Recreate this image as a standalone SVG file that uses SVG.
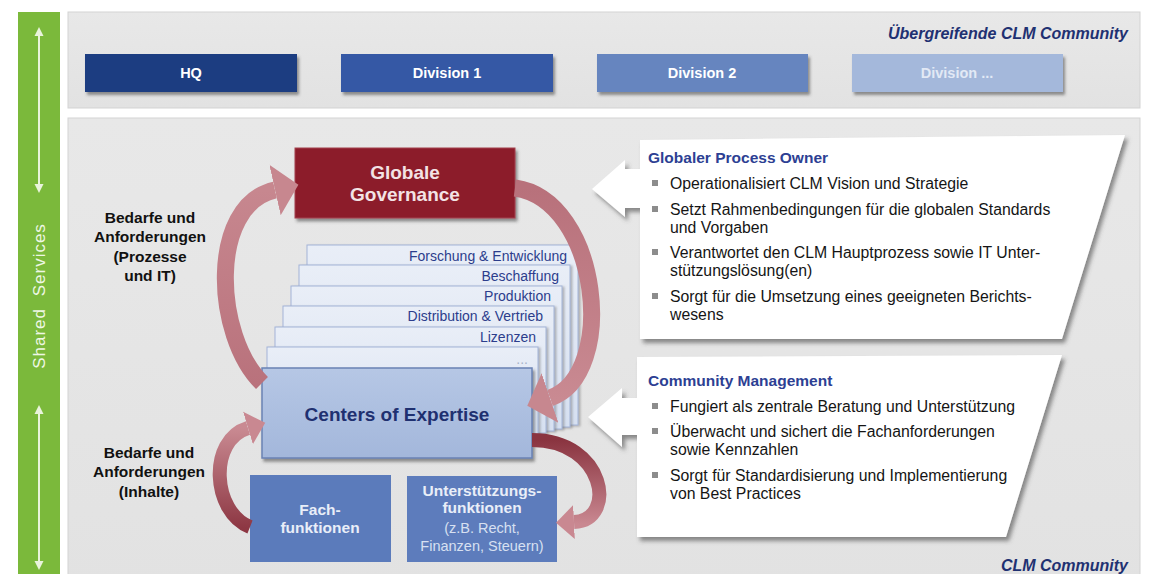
<svg xmlns="http://www.w3.org/2000/svg" width="1149" height="574" viewBox="0 0 1149 574">
  <style>
    .sans { font-family: "Liberation Sans", Arial, Helvetica, sans-serif; }
    .panel { fill: url(#panelFill); stroke: #d3d3d3; stroke-width: 1; }
    .unit { filter: url(#boxShadow); }
    .unit-label { font-family: "Liberation Sans", Arial, sans-serif; font-weight: bold; font-size: 14.5px; text-anchor: middle; fill: #ffffff; }
    .community { font-family: "Liberation Sans", Arial, sans-serif; font-weight: bold; font-style: italic; font-size: 16px; text-anchor: end; fill: #1f3172; }
    .side-label { font-family: "Liberation Sans", Arial, sans-serif; font-weight: bold; font-size: 15.5px; text-anchor: middle; fill: #111111; }
    .card { fill: url(#cardFill); stroke: #a3b4d7; stroke-width: 1; filter: url(#cardShadow); }
    .card-label { font-family: "Liberation Sans", Arial, sans-serif; font-size: 14px; text-anchor: end; fill: #2c3d8c; }
    .callout { fill: #ffffff; filter: url(#calloutShadow); }
    .callout-title { font-family: "Liberation Sans", Arial, sans-serif; font-weight: bold; font-size: 15.5px; fill: #2d3f93; }
    .callout-text { font-family: "Liberation Sans", Arial, sans-serif; font-size: 15.8px; fill: #151515; }
    .bullet { fill: #8c8c8c; }
    .loop { fill: none; stroke-linecap: butt; }
    .bar-line { stroke: #e9f4dc; stroke-width: 2; marker-start: url(#barHead); marker-end: url(#barHead); }
  </style>
  <defs>
    <linearGradient id="panelFill" x1="0" y1="0" x2="0" y2="1">
      <stop offset="0" stop-color="#e8e8e8"/>
      <stop offset="1" stop-color="#e2e2e2"/>
    </linearGradient>
    <linearGradient id="cardFill" x1="0" y1="0" x2="0" y2="1">
      <stop offset="0" stop-color="#e9eef7"/>
      <stop offset="1" stop-color="#d6e0f1"/>
    </linearGradient>
    <linearGradient id="coeFill" x1="0" y1="0" x2="0" y2="1">
      <stop offset="0" stop-color="#b6c7e5"/>
      <stop offset="1" stop-color="#a3b7db"/>
    </linearGradient>
    <linearGradient id="loopLeft" gradientUnits="userSpaceOnUse" x1="0" y1="190" x2="0" y2="384">
      <stop offset="0" stop-color="#c7878f"/>
      <stop offset="1" stop-color="#b9727c"/>
    </linearGradient>
    <linearGradient id="loopRight" gradientUnits="userSpaceOnUse" x1="0" y1="188" x2="0" y2="400">
      <stop offset="0" stop-color="#b8717b"/>
      <stop offset="1" stop-color="#c98a92"/>
    </linearGradient>
    <linearGradient id="loopLowLeft" gradientUnits="userSpaceOnUse" x1="0" y1="428" x2="0" y2="528">
      <stop offset="0" stop-color="#c98a92"/>
      <stop offset="1" stop-color="#8d3743"/>
    </linearGradient>
    <linearGradient id="loopLowRight" gradientUnits="userSpaceOnUse" x1="0" y1="440" x2="0" y2="524">
      <stop offset="0" stop-color="#8a3440"/>
      <stop offset="1" stop-color="#c98891"/>
    </linearGradient>
    <filter id="boxShadow" x="-10%" y="-20%" width="125%" height="150%">
      <feDropShadow dx="2" dy="3" stdDeviation="1.5" flood-color="#3c3c3c" flood-opacity="0.55"/>
    </filter>
    <filter id="cardShadow" x="-5%" y="-5%" width="115%" height="115%">
      <feDropShadow dx="2" dy="1" stdDeviation="1" flood-color="#6a6a6a" flood-opacity="0.45"/>
    </filter>
    <filter id="calloutShadow" x="-10%" y="-10%" width="125%" height="130%">
      <feDropShadow dx="3" dy="4" stdDeviation="2" flood-color="#4a4a4a" flood-opacity="0.6"/>
    </filter>
    <marker id="bigHead" markerUnits="userSpaceOnUse" viewBox="0 -27 25 54" refX="0" refY="0" markerWidth="25" markerHeight="54" orient="auto">
      <path d="M0,-26 L24,0 L0,26 Z" fill="#c7878f"/>
    </marker>
    <marker id="smallHead" markerUnits="userSpaceOnUse" viewBox="0 -18 19 36" refX="0" refY="0" markerWidth="19" markerHeight="36" orient="auto">
      <path d="M0,-17 L18,0 L0,17 Z" fill="#c98891"/>
    </marker>
    <marker id="barHead" markerUnits="userSpaceOnUse" viewBox="0 -5 9 10" refX="0" refY="0" markerWidth="9" markerHeight="10" orient="auto-start-reverse">
      <path d="M0,-4.5 L9,0 L0,4.5 Z" fill="#e9f4dc"/>
    </marker>
  </defs>

  <rect x="0" y="0" width="1149" height="574" fill="#ffffff"/>

  <!-- vertical shared services band -->
  <g id="shared-services">
    <rect x="18" y="12" width="42" height="562" fill="#7bb93b"/>
    <line class="bar-line" x1="39" y1="36" x2="39" y2="184"/>
    <line class="bar-line" x1="39" y1="414" x2="39" y2="561"/>
    <text class="sans" x="39" y="296" dy="6" transform="rotate(-90 39 296)" text-anchor="middle" font-size="17" letter-spacing="1" word-spacing="6" fill="#eef7e4">Shared Services</text>
  </g>

  <!-- upper panel: group-wide community -->
  <g id="global-community">
    <rect class="panel" x="68" y="12" width="1072" height="96"/>
    <text class="community" x="1128" y="39">Übergreifende CLM Community</text>
  </g>
  <g id="hq">
    <rect class="unit" x="85" y="54" width="212" height="38" fill="#1f3c81"/>
    <text class="unit-label" x="191" y="78">HQ</text>
  </g>
  <g id="division-1">
    <rect class="unit" x="341" y="54" width="212" height="38" fill="#3559a5"/>
    <text class="unit-label" x="447" y="78">Division 1</text>
  </g>
  <g id="division-2">
    <rect class="unit" x="597" y="54" width="211" height="38" fill="#6685bf"/>
    <text class="unit-label" x="702" y="78">Division 2</text>
  </g>
  <g id="division-n">
    <rect class="unit" x="852" y="54" width="211" height="38" fill="#a4b8db"/>
    <text class="unit-label" x="957" y="78" style="fill:#e2e9f5">Division ...</text>
  </g>

  <!-- lower panel: CLM community -->
  <g id="clm-community">
    <rect class="panel" x="68" y="118" width="1072" height="470"/>
    <text class="community" x="1128" y="571">CLM Community</text>
  </g>

  <g id="label-processes">
    <text class="side-label" x="150" y="223">Bedarfe und</text>
    <text class="side-label" x="150" y="242">Anforderungen</text>
    <text class="side-label" x="150" y="262">(Prozesse</text>
    <text class="side-label" x="150" y="281">und IT)</text>
  </g>
  <g id="label-contents">
    <text class="side-label" x="149" y="458">Bedarfe und</text>
    <text class="side-label" x="149" y="477">Anforderungen</text>
    <text class="side-label" x="149" y="497">(Inhalte)</text>
  </g>

  <!-- stacked functional areas behind the centers of expertise -->
  <g id="functional-areas">
    <rect class="card" x="307" y="245" width="271" height="180"/>
    <text class="card-label" x="567" y="261">Forschung &amp; Entwicklung</text>
    <rect class="card" x="299" y="265" width="271" height="162"/>
    <text class="card-label" x="559" y="281">Beschaffung</text>
    <rect class="card" x="291" y="286" width="271" height="143"/>
    <text class="card-label" x="551" y="301">Produktion</text>
    <rect class="card" x="283" y="306" width="271" height="125"/>
    <text class="card-label" x="543" y="321">Distribution &amp; Vertrieb</text>
    <rect class="card" x="275" y="327" width="271" height="106"/>
    <text class="card-label" x="536" y="342">Lizenzen</text>
    <rect class="card" x="267" y="347" width="271" height="88"/>
    <text class="card-label" x="528" y="364" style="fill:#a9b3c9">...</text>
  </g>

  <g id="global-governance">
    <rect class="unit" x="295" y="148" width="220" height="70" fill="#8c1d2c" stroke="#a3404d" stroke-width="1"/>
    <text class="sans" x="405" y="179" text-anchor="middle" font-size="19" font-weight="bold" fill="#f3e3e5">Globale</text>
    <text class="sans" x="405" y="201" text-anchor="middle" font-size="19" font-weight="bold" fill="#f3e3e5">Governance</text>
  </g>

  <g id="centers-of-expertise">
    <rect class="unit" x="262" y="368" width="270" height="90" fill="url(#coeFill)" stroke="#6a82b4" stroke-width="1.5"/>
    <text class="sans" x="397" y="421" text-anchor="middle" font-size="19" font-weight="bold" fill="#1f3070">Centers of Expertise</text>
  </g>

  <g id="fachfunktionen">
    <rect x="250" y="475" width="141" height="87" fill="#5b7bbb"/>
    <text class="sans" x="320" y="515" text-anchor="middle" font-size="15.5" font-weight="bold" fill="#e9eef8">Fach-</text>
    <text class="sans" x="320" y="533" text-anchor="middle" font-size="15.5" font-weight="bold" fill="#e9eef8">funktionen</text>
  </g>

  <g id="unterstuetzungsfunktionen">
    <rect x="407" y="476" width="150" height="86" fill="#5d7cbc"/>
    <text class="sans" x="482" y="496" text-anchor="middle" font-size="15.5" font-weight="bold" fill="#e9eef8">Unterstützungs-</text>
    <text class="sans" x="482" y="513" text-anchor="middle" font-size="15.5" font-weight="bold" fill="#e9eef8">funktionen</text>
    <text class="sans" x="482" y="533" text-anchor="middle" font-size="14.5" fill="#d7e0f1">(z.B. Recht,</text>
    <text class="sans" x="482" y="551" text-anchor="middle" font-size="14.5" fill="#d7e0f1">Finanzen, Steuern)</text>
  </g>

  <!-- role callouts -->
  <g id="process-owner">
    <polygon class="callout" points="640,140 1125,135 1062,339 640,339 640,208 625,208 625,217 592,189 625,160 625,169 640,169"/>
    <text class="callout-title" x="648" y="163">Globaler Process Owner</text>
    <rect class="bullet" x="652" y="180" width="6" height="6"/>
    <text class="callout-text" x="670" y="189">Operationalisiert CLM Vision und Strategie</text>
    <rect class="bullet" x="652" y="206" width="6" height="6"/>
    <text class="callout-text" x="670" y="215">Setzt Rahmenbedingungen für die globalen Standards</text>
    <text class="callout-text" x="670" y="233">und Vorgaben</text>
    <rect class="bullet" x="652" y="249" width="6" height="6"/>
    <text class="callout-text" x="670" y="258">Verantwortet den CLM Hauptprozess sowie IT Unter-</text>
    <text class="callout-text" x="670" y="276">stützungslösung(en)</text>
    <rect class="bullet" x="652" y="293" width="6" height="6"/>
    <text class="callout-text" x="670" y="302">Sorgt für die Umsetzung eines geeigneten Berichts-</text>
    <text class="callout-text" x="670" y="320">wesens</text>
  </g>

  <g id="community-management">
    <polygon class="callout" points="637,357 1062,355 1006,537 637,537 637,435 622,435 622,447 588,417 622,388 622,398 637,398"/>
    <text class="callout-title" x="648" y="386">Community Management</text>
    <rect class="bullet" x="652" y="403" width="6" height="6"/>
    <text class="callout-text" x="670" y="412">Fungiert als zentrale Beratung und Unterstützung</text>
    <rect class="bullet" x="652" y="428" width="6" height="6"/>
    <text class="callout-text" x="670" y="437">Überwacht und sichert die Fachanforderungen</text>
    <text class="callout-text" x="670" y="455">sowie Kennzahlen</text>
    <rect class="bullet" x="652" y="472" width="6" height="6"/>
    <text class="callout-text" x="670" y="481">Sorgt für Standardisierung und Implementierung</text>
    <text class="callout-text" x="670" y="499">von Best Practices</text>
  </g>

  <!-- feedback loops between governance, expertise and functions -->
  <g id="connectors">
    <path class="loop" d="M262 383 C214 336 208 205 275 190" stroke="url(#loopLeft)" stroke-width="17" marker-end="url(#bigHead)"/>
    <path class="loop" d="M515 188 C600 200 618 375 550 398" stroke="url(#loopRight)" stroke-width="17" marker-end="url(#bigHead)"/>
    <path class="loop" d="M250 527 C212 512 208 440 248 428" stroke="url(#loopLowLeft)" stroke-width="14" marker-end="url(#smallHead)"/>
    <path class="loop" d="M532 440 C605 440 618 520 574 522" stroke="url(#loopLowRight)" stroke-width="14" marker-end="url(#smallHead)"/>
  </g>
</svg>
